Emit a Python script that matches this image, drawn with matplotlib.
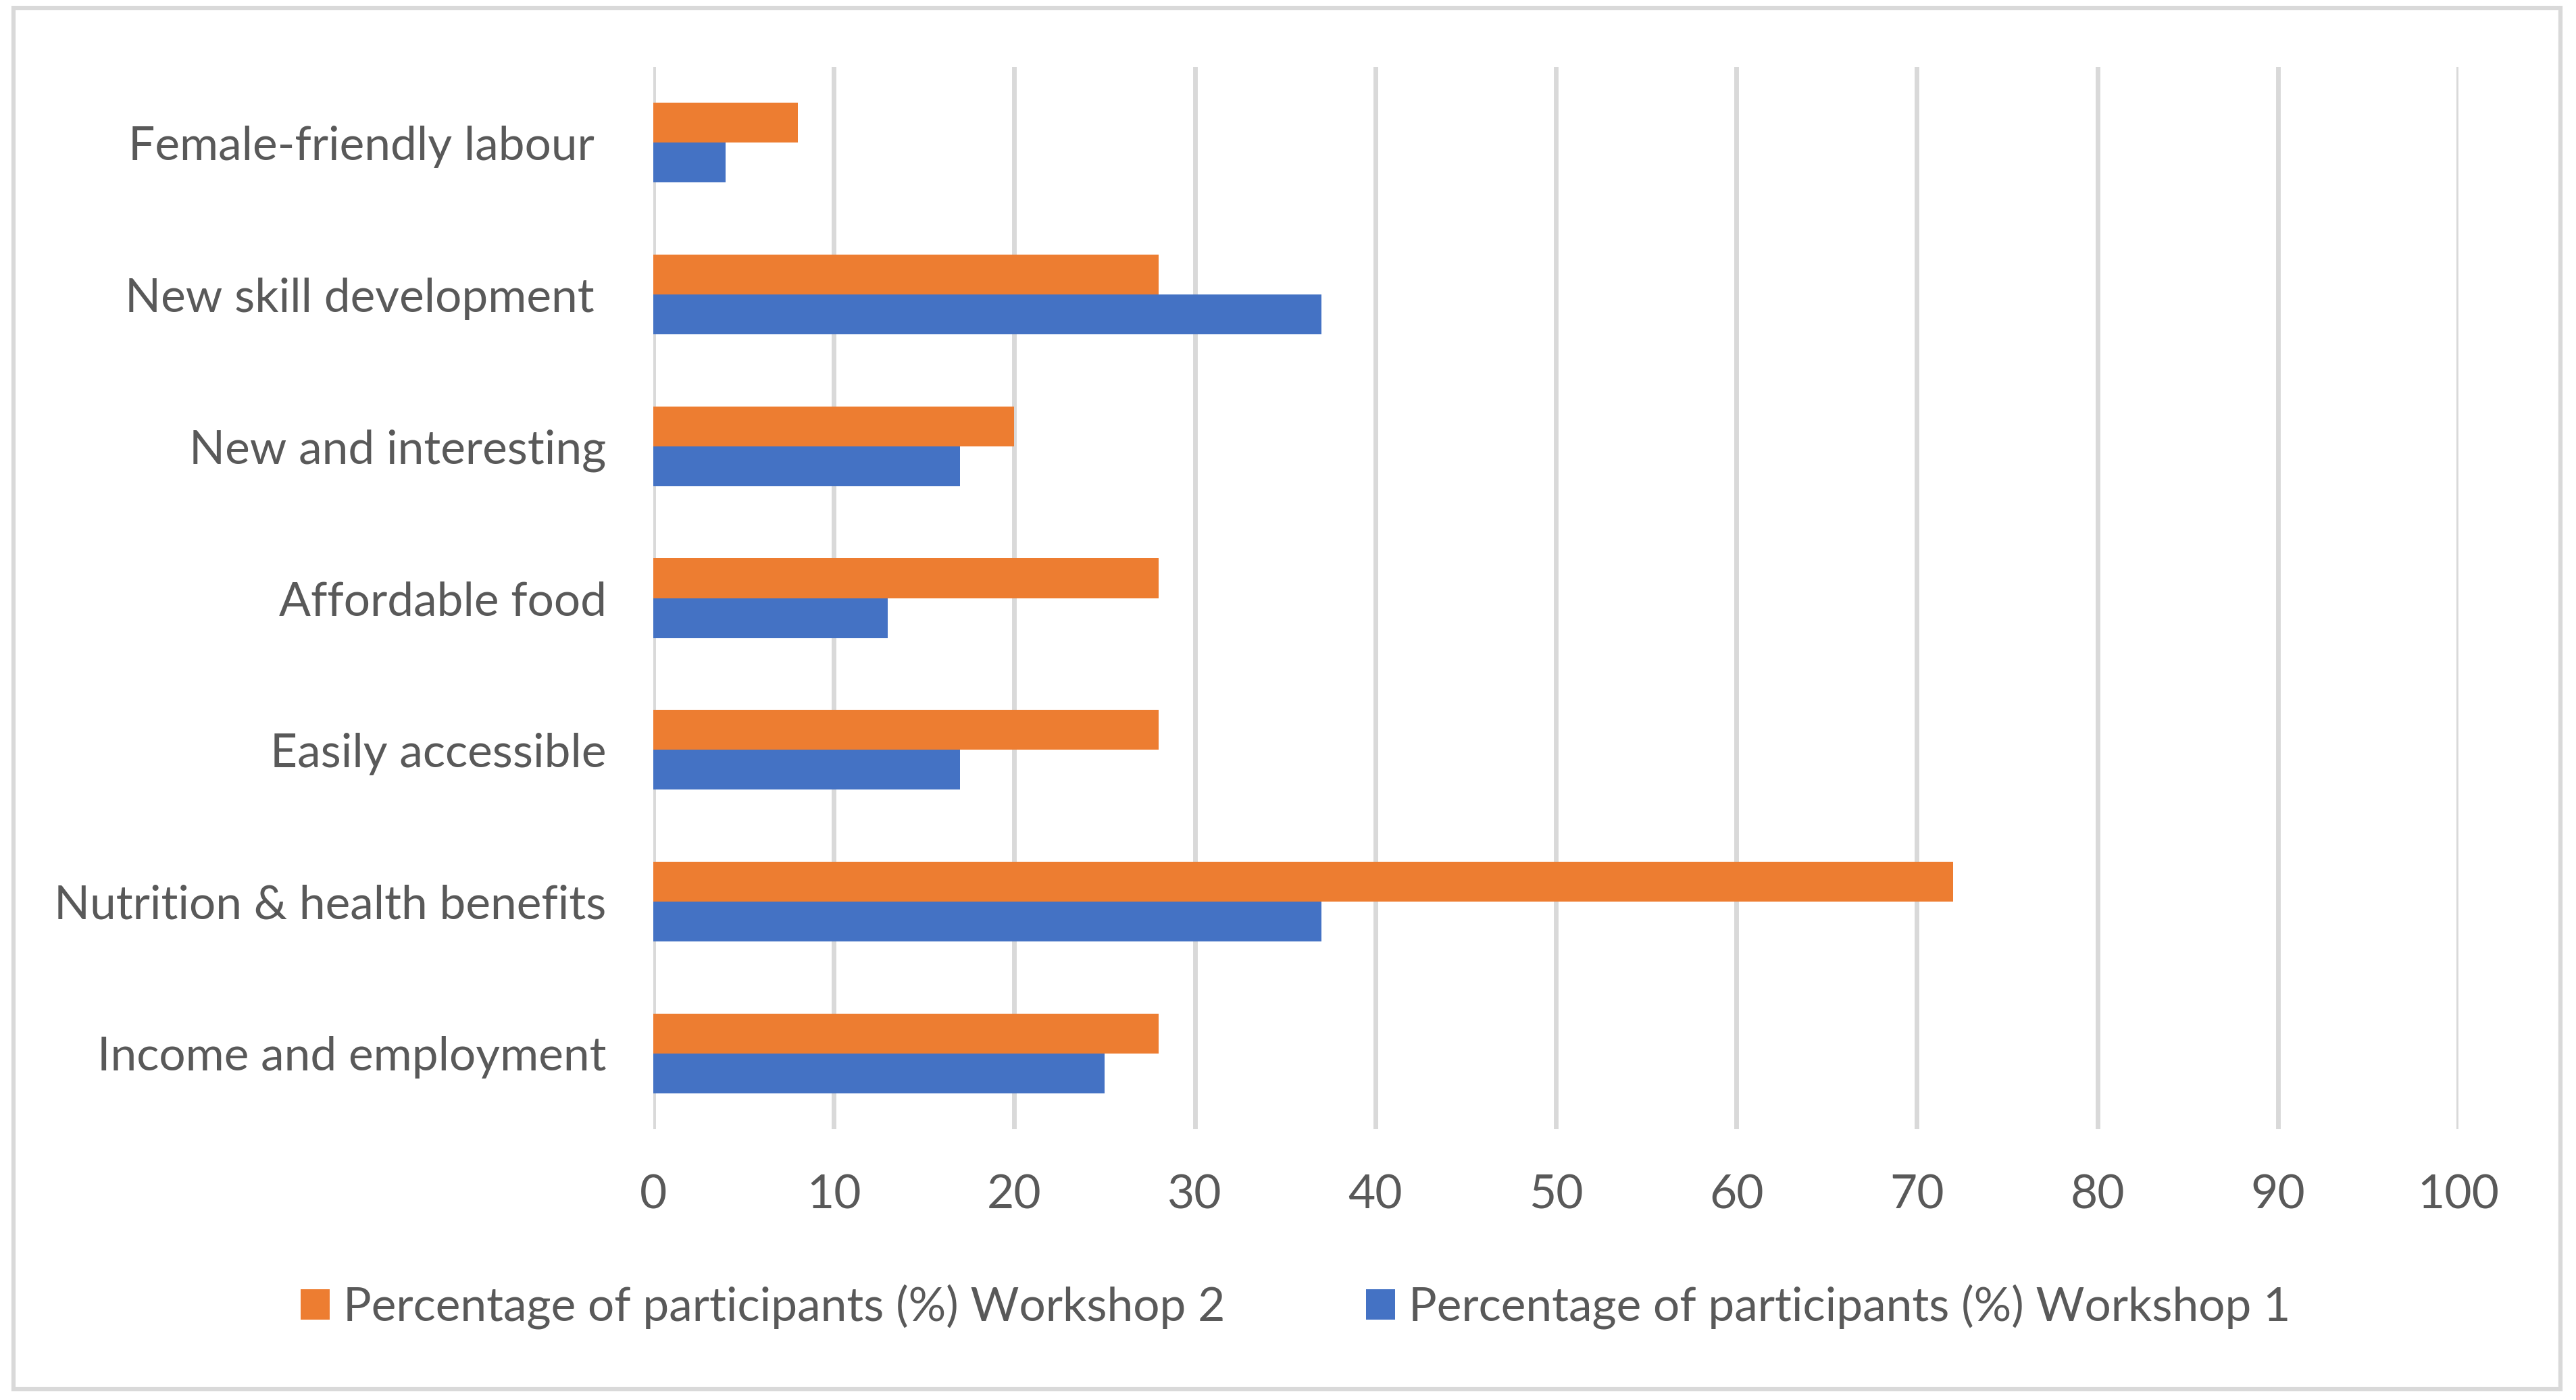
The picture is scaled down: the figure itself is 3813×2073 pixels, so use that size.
import matplotlib
matplotlib.use("Agg")
import matplotlib.pyplot as plt
from matplotlib.patches import Rectangle, Patch
import numpy as np

categories = ["Income and employment", "Nutrition & health benefits", "Easily accessible",
              "Affordable food", "New and interesting", "New skill development ",
              "Female-friendly labour "]
workshop1 = [25, 37, 17, 13, 17, 37, 4]
workshop2 = [28, 72, 28, 28, 20, 28, 8]
xticks = [0, 10, 20, 30, 40, 50, 60, 70, 80, 90, 100]
series_labels = ["Percentage of participants (%) Workshop 2",
                 "Percentage of participants (%) Workshop 1"]

ORANGE = "#ED7D31"
BLUE = "#4472C4"
GRID = "#D9D9D9"
TEXT = "#595959"

plt.rcParams['font.family'] = ['Lato', 'DejaVu Sans']
FS = 50

W, H = 3813, 2073
fig = plt.figure(figsize=(W / 100, H / 100), dpi=100)
fig.patch.set_facecolor("white")

ax = fig.add_axes([967 / W, 1 - 1672 / H, (3639 - 967) / W, (1672 - 99) / H])

y = np.arange(len(categories))
bh = 0.263
ax.barh(y - bh / 2, workshop1, height=bh, color=BLUE, zorder=3)
ax.barh(y + bh / 2, workshop2, height=bh, color=ORANGE, zorder=3)

ax.set_xlim(0, 100)
ax.set_ylim(-0.5, len(categories) - 0.5)
ax.set_xticks(xticks)
ax.set_xticklabels([str(t) for t in xticks])
ax.set_yticks(y)
ax.set_yticklabels(categories)
ax.tick_params(axis='both', length=0, labelsize=FS, labelcolor=TEXT)
ax.tick_params(axis='x', pad=48)
ax.tick_params(axis='y', pad=50)
ax.grid(axis='x', color=GRID, linewidth=5, zorder=0)
ax.set_axisbelow(True)
for s in ax.spines.values():
    s.set_visible(False)

handles = [Patch(facecolor=ORANGE, edgecolor='none'), Patch(facecolor=BLUE, edgecolor='none')]
fig.legend(handles, series_labels, loc='center', bbox_to_anchor=(0.503, 1 - 1935 / H),
           ncol=2, frameon=False, fontsize=FS, labelcolor=TEXT,
           handlelength=0.62, handleheight=0.62, handletextpad=0.29, columnspacing=3.0)

fig.patches.append(Rectangle((20 / W, 1 - 2057 / H), (3790 - 20) / W, (2057 - 12) / H,
                             transform=fig.transFigure, fill=False, edgecolor=GRID,
                             linewidth=4.5, figure=fig))

fig.savefig("out.png", dpi=100, facecolor="white")
